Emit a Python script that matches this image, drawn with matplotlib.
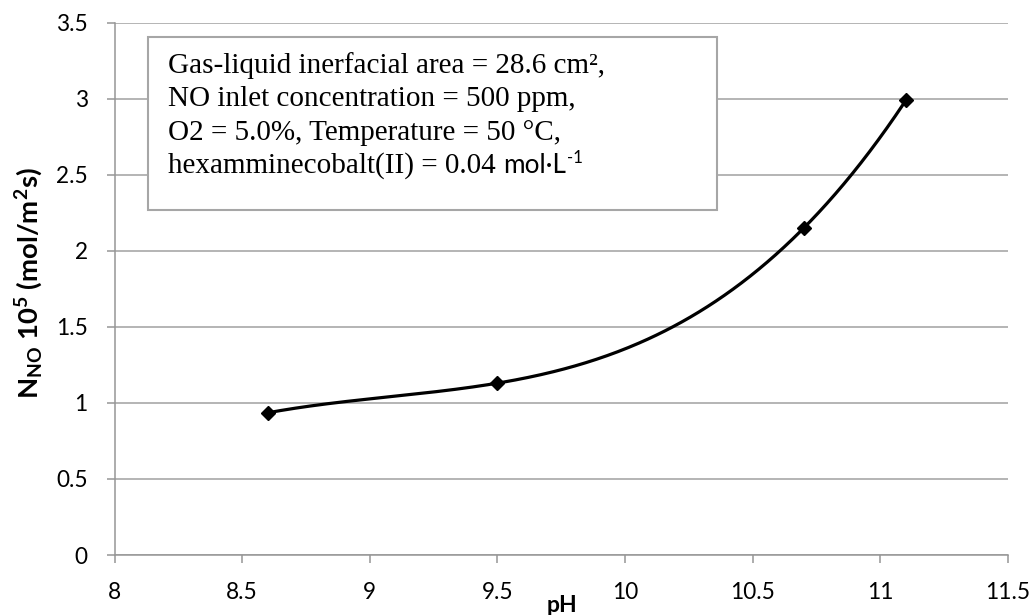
import matplotlib
matplotlib.use("Agg")
import matplotlib.pyplot as plt
from matplotlib.patches import Rectangle
import numpy as np

ph = [8.6, 9.5, 10.7, 11.1]
flux = [0.935, 1.13, 2.15, 2.99]
x_ticks = [8, 8.5, 9, 9.5, 10, 10.5, 11, 11.5]
y_ticks = [0, 0.5, 1, 1.5, 2, 2.5, 3, 3.5]
box_lines = [
    "Gas-liquid inerfacial area = 28.6 cm²,",
    "NO inlet concentration = 500 ppm,",
    "O2 = 5.0%, Temperature = 50 °C,",
    "hexamminecobalt(II) = 0.04 ",
]
unit_text = "mol·L"
unit_sup = "-1"
y_label = r"N$_{NO}$ 10$^{5}$ (mol/m$^{2}$s)"
x_label = "pH"

plt.rcParams['font.family'] = ['Lato', 'DejaVu Sans']
plt.rcParams['mathtext.default'] = 'regular'

W, H = 1034, 615
fig = plt.figure(figsize=(W/100, H/100), dpi=100)
X0, X1, Y0, Y1 = 114.5, 1008, 555, 22.7   # pixel positions of axes box
ax = fig.add_axes([X0/W, 1-Y0/H, (X1-X0)/W, (Y0-Y1)/H])
renderer = fig.canvas.get_renderer()


def fit_size(text, target_px, **kw):
    t = fig.text(0, 0, text, fontsize=10, **kw)
    w = t.get_window_extent(renderer).width
    t.remove()
    return 10 * target_px / w


ax.set_xlim(8, 11.5)
ax.set_ylim(0, 3.5)
ax.set_xticks(x_ticks)
ax.set_yticks(y_ticks)
ax.set_xticklabels([f"{v:g}" for v in x_ticks])
ax.set_yticklabels([f"{v:g}" for v in y_ticks])

tick_fs = fit_size("11.5", 45)
grid_c = '#a0a0a0'
ax.grid(axis='y', color=grid_c, lw=1.1)
ax.set_axisbelow(True)
for s in ['top', 'right']:
    ax.spines[s].set_visible(False)
for s in ['left', 'bottom']:
    ax.spines[s].set_color('#969696')
    ax.spines[s].set_linewidth(1.1)
ax.tick_params(axis='both', colors='#969696', width=1.1, length=5.8,
               labelcolor='black', labelsize=tick_fs, pad=13.5)

# polynomial (order 3) trendline through the data, as in the source chart
coef = np.polyfit(ph, flux, 3)
xs = np.linspace(min(ph), max(ph), 300)
ax.plot(xs, np.polyval(coef, xs), color='black', lw=2.3, zorder=3,
        solid_capstyle='round')
ax.plot(ph, flux, linestyle='none', marker='D', markersize=7.5,
        color='black', zorder=4)

# axis titles
yl_fs = fit_size(y_label, 233, fontweight='bold')
fig.text(29/W, 1-283/H, y_label, rotation=90, ha='center', va='center',
         fontsize=yl_fs, fontweight='bold')
fig.text(562/W, 1-611.5/H, x_label, ha='center', va='baseline',
         fontsize=16.5, fontweight='bold')

# annotation box
ax.add_patch(Rectangle((148, H-210), 717-148, 210-37, transform=None,
                       facecolor='white', edgecolor='#a6a6a6', lw=1.5,
                       zorder=5))
serif = ['Liberation Serif', 'DejaVu Serif']
box_fs = fit_size(box_lines[0], 605-168, family=serif)
baselines = [73, 106.5, 140, 173]
last = None
for line, yb in zip(box_lines, baselines):
    last = fig.text(168/W, 1-yb/H, line, family=serif, fontsize=box_fs,
                    va='baseline', ha='left', zorder=6)
fig.canvas.draw()
bb = last.get_window_extent(renderer)
u = fig.text(bb.x1/W, 1-173/H, unit_text, va='baseline', ha='left',
             fontsize=box_fs*0.9, family=['Lato', 'DejaVu Sans'], zorder=6)
ub = u.get_window_extent(renderer)
fig.text(ub.x1/W + 0.001, 1-(173-10)/H, unit_sup, va='baseline', ha='left',
         fontsize=box_fs*0.58, family=['Lato', 'DejaVu Sans'], zorder=6)

fig.savefig("out.png", dpi=100)
